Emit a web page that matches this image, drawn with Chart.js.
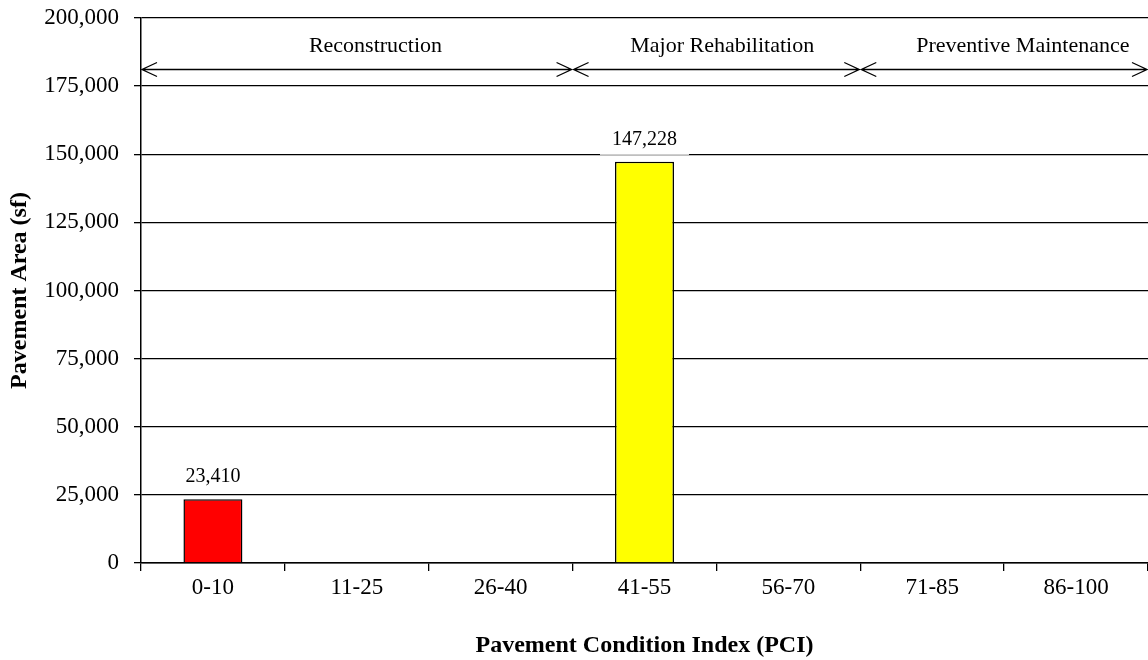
<!DOCTYPE html>
<html><head><meta charset="utf-8">
<script src="https://cdn.jsdelivr.net/npm/chart.js@4"></script>
<style>html,body{margin:0;padding:0;background:#fff}</style>
</head><body>
<canvas id="c" width="1148" height="660"></canvas>
<script>
// ---- data ----
const categories = ['0-10','11-25','26-40','41-55','56-70','71-85','86-100'];
const areaValues = [23410, 0, 0, 147228, 0, 0, 0];
const barColors = ['#FF0000','#FF0000','#FF0000','#FFFF00','#FFFF00','#00B050','#00B050'];
const yMin = 0, yMax = 200000, yStep = 25000;
const zoneNames = ['Reconstruction','Major Rehabilitation','Preventive Maintenance'];
const zoneStart = [-0.5, 2.5, 4.5];
const zoneEnd = [2.5, 4.5, 6.5];
const zoneLabelAt = [1.13, 3.54, 5.63];
const zoneArrowLevel = 181300;
const zoneLabelLevel = 189600;
const xTitle = 'Pavement Condition Index (PCI)';
const yTitle = 'Pavement Area (sf)';

const FONT = '"Liberation Serif","Times New Roman",serif';
const fmt = v => Number(v).toLocaleString('en-US');

const zonePlugin = {
  id: 'zones',
  afterDatasetsDraw(chart) {
    const {ctx, scales: {x, y}} = chart;
    const ay = Math.round(y.getPixelForValue(zoneArrowLevel)) + 0.5;
    const ly = y.getPixelForValue(zoneLabelLevel);
    ctx.save();
    ctx.strokeStyle = '#000';
    ctx.lineWidth = 1.3;
    const head = 15, hw = 7;
    for (let i = 0; i < zoneNames.length; i++) {
      const x1 = x.getPixelForValue(zoneStart[i]) + 1;
      const x2 = x.getPixelForValue(zoneEnd[i]) - 1;
      ctx.beginPath();
      ctx.moveTo(x1, ay); ctx.lineTo(x2, ay);
      ctx.moveTo(x1 + head, ay - hw); ctx.lineTo(x1, ay); ctx.lineTo(x1 + head, ay + hw);
      ctx.moveTo(x2 - head, ay - hw); ctx.lineTo(x2, ay); ctx.lineTo(x2 - head, ay + hw);
      ctx.stroke();
      ctx.fillStyle = '#000';
      ctx.font = '22px ' + FONT;
      ctx.textAlign = 'center';
      ctx.textBaseline = 'middle';
      ctx.fillText(zoneNames[i], x.getPixelForValue(zoneLabelAt[i]), ly);
    }
    ctx.restore();
  }
};

const labelPlugin = {
  id: 'barLabels',
  afterDatasetsDraw(chart) {
    const {ctx} = chart;
    const meta = chart.getDatasetMeta(0);
    ctx.save();
    ctx.font = '20px ' + FONT;
    ctx.textAlign = 'center';
    ctx.textBaseline = 'middle';
    meta.data.forEach((el, i) => {
      const v = areaValues[i];
      if (!v) return;
      const cy = el.y - 22;
      const w = ctx.measureText(fmt(v)).width + 24;
      ctx.fillStyle = '#fff';
      ctx.fillRect(el.x - w / 2, cy - 13, w, 28);
      ctx.fillStyle = '#000';
      ctx.fillText(fmt(v), el.x, cy);
    });
    ctx.restore();
  }
};

new Chart(document.getElementById('c'), {
  type: 'bar',
  data: {
    labels: categories,
    datasets: [{
      data: areaValues,
      backgroundColor: barColors,
      borderColor: '#000',
      borderWidth: 1.5,
      categoryPercentage: 1,
      barPercentage: 0.41
    }]
  },
  options: {
    responsive: false,
    animation: false,
    devicePixelRatio: 1,
    layout: {padding: {top: 18, right: 0, left: 0, bottom: 0}},
    plugins: {legend: {display: false}, tooltip: {enabled: false}},
    scales: {
      x: {
        offset: true,
        grid: {display: true, drawOnChartArea: false, drawTicks: true, tickLength: 8, offset: true, color: '#000', lineWidth: 1.3},
        border: {display: true, color: '#000', width: 1.5},
        ticks: {color: '#000', font: {family: FONT, size: 23}, padding: 3, maxRotation: 0},
        title: {display: true, text: xTitle, color: '#000', font: {family: FONT, size: 24, weight: 'bold'}, padding: {top: 0, bottom: 0}},
        afterFit(s) { s.height = 97; s.paddingLeft = 0; s.paddingRight = 0; }
      },
      y: {
        min: yMin, max: yMax,
        grid: {color: '#000', lineWidth: 1.3, tickLength: 7, drawTicks: true},
        border: {display: true, color: '#000', width: 1.5},
        ticks: {stepSize: yStep, color: '#000', font: {family: FONT, size: 23}, padding: 15, callback: v => fmt(v)},
        title: {display: true, text: yTitle, color: '#000', font: {family: FONT, size: 24, weight: 'bold'}, padding: {top: 5, bottom: 0}},
        afterFit(s) { s.width = 141; s.paddingTop = 0; s.paddingBottom = 0; }
      }
    }
  },
  plugins: [zonePlugin, labelPlugin]
});
</script>
</body></html>
